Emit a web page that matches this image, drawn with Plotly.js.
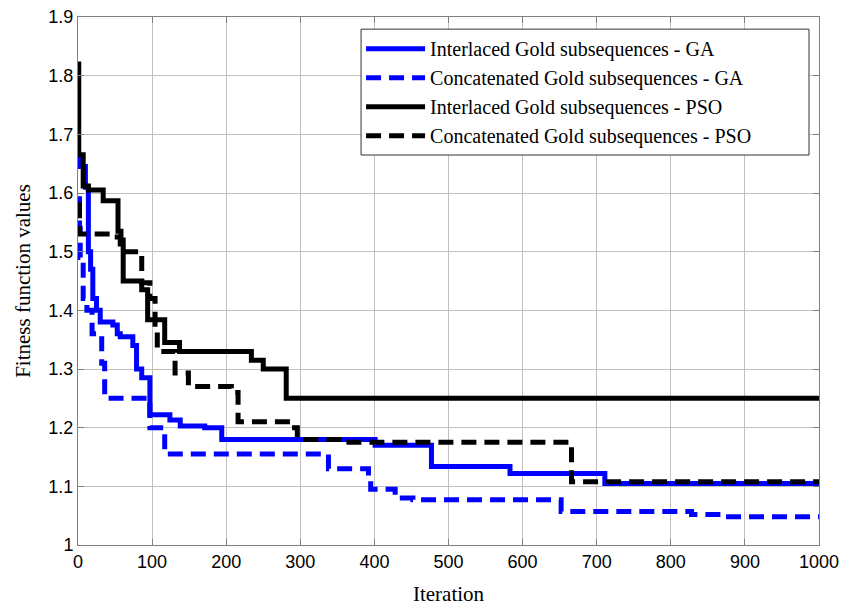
<!DOCTYPE html>
<html>
<head>
<meta charset="utf-8">
<script src="https://cdn.plot.ly/plotly-3.0.1.min.js"></script>
<style>html,body{margin:0;padding:0;background:#fff;}#chart{width:844px;height:606px;}</style>
</head>
<body>
<div id="chart"></div>
<script>
// Interlaced Gold subsequences - GA
const gaIntX = [0, 3, 10, 14, 17, 20, 25, 30, 47, 53, 57, 74, 79, 86, 97, 124, 138, 171, 194, 401, 477, 583, 711, 1000];
const gaIntY = [1.66, 1.645, 1.61, 1.50, 1.47, 1.42, 1.40, 1.38, 1.375, 1.36, 1.355, 1.34, 1.30, 1.285, 1.222, 1.213, 1.203, 1.20, 1.18, 1.17, 1.134, 1.122, 1.105, 1.105];
// Concatenated Gold subsequences - GA
const gaConX = [0, 2, 3, 7, 12, 19, 32, 36, 97, 117, 338, 392, 395, 428, 452, 652, 828, 869, 1000];
const gaConY = [1.59, 1.54, 1.49, 1.42, 1.40, 1.36, 1.31, 1.25, 1.20, 1.155, 1.13, 1.115, 1.095, 1.08, 1.077, 1.057, 1.052, 1.048, 1.048];
// Interlaced Gold subsequences - PSO
const psoIntX = [0, 1, 7, 14, 34, 54, 58, 61, 86, 94, 117, 137, 234, 250, 281, 1000];
const psoIntY = [1.82, 1.665, 1.612, 1.605, 1.587, 1.535, 1.52, 1.45, 1.435, 1.384, 1.345, 1.33, 1.315, 1.30, 1.25, 1.25];
// Concatenated Gold subsequences - PSO
const psoConX = [0, 2, 43, 57, 86, 97, 104, 107, 131, 149, 207, 216, 286, 296, 360, 666, 1000];
const psoConY = [1.58, 1.53, 1.525, 1.50, 1.447, 1.42, 1.37, 1.33, 1.293, 1.27, 1.26, 1.21, 1.20, 1.18, 1.175, 1.108, 1.108];

const names = [
  'Interlaced Gold subsequences - GA',
  'Concatenated Gold subsequences - GA',
  'Interlaced Gold subsequences - PSO',
  'Concatenated Gold subsequences - PSO'
];

const W = 5;
const traces = [
  {x: gaIntX, y: gaIntY, name: names[0], mode: 'lines', line: {shape: 'hv', color: '#0000ff', width: W}},
  {x: gaConX, y: gaConY, name: names[1], mode: 'lines', line: {shape: 'hv', color: '#0000ff', width: W, dash: '15px,8px'}},
  {x: psoIntX, y: psoIntY, name: names[2], mode: 'lines', line: {shape: 'hv', color: '#000000', width: W}},
  {x: psoConX, y: psoConY, name: names[3], mode: 'lines', line: {shape: 'hv', color: '#000000', width: W, dash: '15px,8px'}}
];

const tickFont = {family: 'Liberation Sans, Arial, sans-serif', size: 18, color: '#000'};
const titleFont = {family: 'Liberation Serif, Times New Roman, serif', size: 21, color: '#000'};

const layout = {
  width: 844, height: 606,
  margin: {l: 78, r: 25, t: 17, b: 61},
  paper_bgcolor: '#fff', plot_bgcolor: '#fff',
  showlegend: true,
  legend: {
    x: 0.382, y: 0.977, xanchor: 'left', yanchor: 'top',
    bgcolor: 'rgba(0,0,0,0)', borderwidth: 0,
    font: {family: 'Liberation Serif, Times New Roman, serif', size: 20, color: '#000'},
    tracegroupgap: 0, itemwidth: 59
  },
  shapes: [{
    type: 'rect', xref: 'paper', yref: 'paper',
    x0: 0.382, x1: 0.9865, y0: 0.7386, y1: 0.977,
    fillcolor: '#ffffff', line: {color: '#333', width: 1}, layer: 'above'
  }],
  xaxis: {
    range: [0, 1000], tick0: 0, dtick: 100,
    showgrid: true, gridcolor: '#c0c0c0', gridwidth: 1,
    showline: true, linecolor: '#808080', linewidth: 1, mirror: 'ticks',
    ticks: 'inside', ticklen: 6, tickcolor: '#808080',
    tickfont: tickFont, zeroline: false,
    title: {text: 'Iteration', font: titleFont, standoff: 16}
  },
  yaxis: {
    range: [1, 1.9], tick0: 1, dtick: 0.1,
    showgrid: true, gridcolor: '#c0c0c0', gridwidth: 1,
    showline: true, linecolor: '#808080', linewidth: 1, mirror: 'ticks',
    ticks: 'inside', ticklen: 6, tickcolor: '#808080',
    tickfont: tickFont, zeroline: false,
    title: {text: 'Fitness function values', font: titleFont, standoff: 12}
  }
};

Plotly.newPlot('chart', traces, layout, {displayModeBar: false, staticPlot: true});
</script>
</body>
</html>
